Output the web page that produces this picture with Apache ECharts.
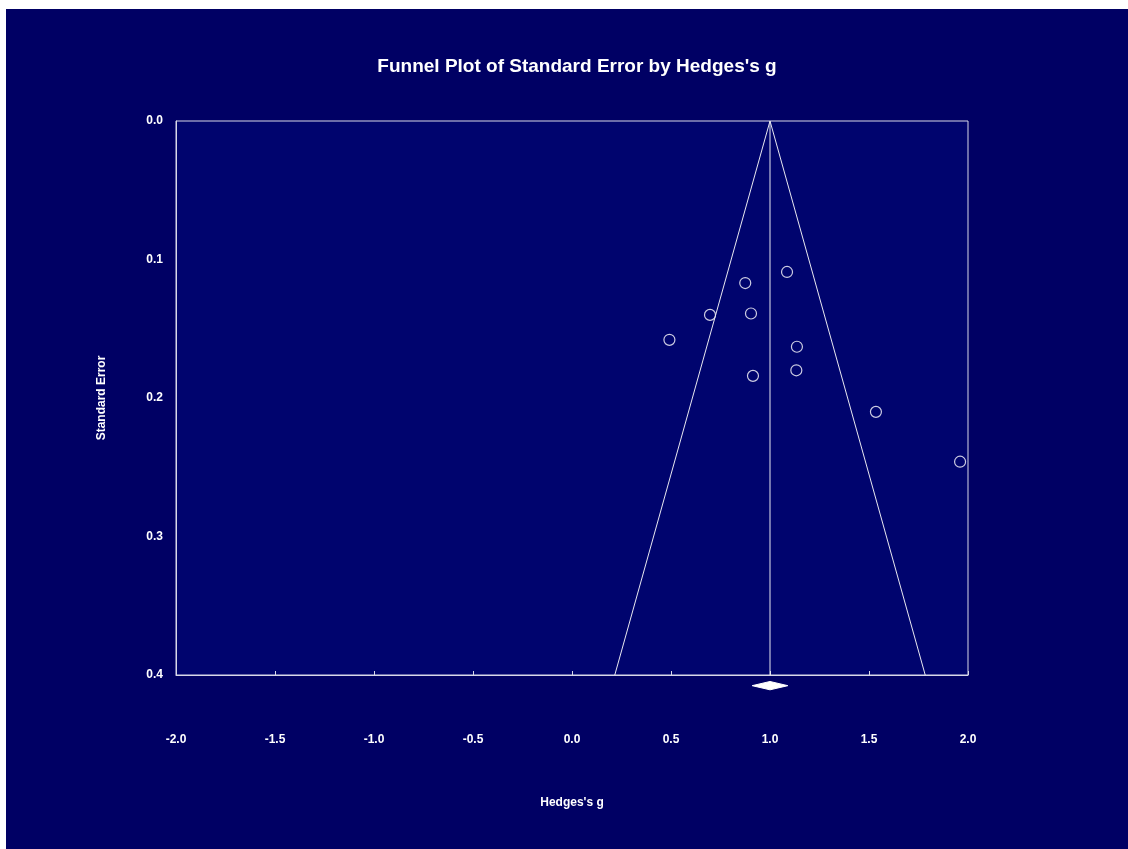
<!DOCTYPE html>
<html>
<head>
<meta charset="utf-8">
<script src="https://cdn.jsdelivr.net/npm/echarts@6/dist/echarts.min.js"></script>
<style>
  html, body { margin: 0; padding: 0; background: #ffffff; }
  #chart {
    position: absolute;
    left: 6px;
    top: 9px;
    width: 1122px;
    height: 840px;
    background: #000064;
  }
</style>
</head>
<body>
<div id="chart"></div>
<script>
// study points: Hedges's g and its standard error
const effectSizes = [1.086, 0.875, 0.697, 0.904, 0.492, 1.136, 1.133, 0.914, 1.535, 1.960];
const standardErrors = [0.109, 0.117, 0.140, 0.139, 0.158, 0.163, 0.180, 0.184, 0.210, 0.246];

// pooled estimate and funnel (95% limits at SE = 0.4)
const pooledMean = 1.0;
const funnelX = [0.216, 1.0, 1.784];
const funnelY = [0.4, 0.0, 0.4];
const meanLineY = [0.0, 0.4];

// summary diamond: lower, point, upper; drawn just under the axis
const diamondX = [0.91, 1.0, 1.09];
const diamondY = 0.4077;
const diamondHalfH = 0.003;

const xTicks = [-2.0, -1.5, -1.0, -0.5, 0.0, 0.5, 1.0, 1.5, 2.0];
const yTicks = [0.0, 0.1, 0.2, 0.3, 0.4];

const font = "'Liberation Sans', Arial, sans-serif";

const myChart = echarts.init(document.getElementById("chart"));

const option = {
  backgroundColor: "#000064",
  animation: false,
  title: {
    text: "Funnel Plot of Standard Error by Hedges's g",
    left: 566,
    textAlign: "center",
    top: 43,
    textStyle: {
      color: "#ffffff",
      fontSize: 19,
      fontWeight: "bold",
      fontFamily: font,
    },
  },
  grid: {
    left: 170,
    right: 160,
    top: 112,
    bottom: 174,
    show: true,
    backgroundColor: "#00046e",
    borderColor: "#d8d8e8",
    borderWidth: 1,
  },
  xAxis: {
    type: "value",
    position: "bottom",
    min: xTicks[0],
    max: xTicks[xTicks.length - 1],
    interval: 0.5,
    name: "Hedges's g",
    nameLocation: "middle",
    nameGap: 122,
    nameTextStyle: { color: "#ffffff", fontSize: 12, fontWeight: "bold", fontFamily: font },
    axisLine: { show: true, onZero: false, lineStyle: { color: "#d8d8e8", width: 1 } },
    axisTick: { show: true, inside: true, length: 4, lineStyle: { color: "#d8d8e8" } },
    splitLine: { show: false },
    axisLabel: {
      color: "#ffffff",
      fontSize: 12,
      fontWeight: "bold",
      fontFamily: font,
      margin: 59,
      formatter: (v) => v.toFixed(1),
    },
  },
  yAxis: {
    type: "value",
    position: "left",
    inverse: true,
    min: yTicks[0],
    max: yTicks[yTicks.length - 1],
    interval: 0.1,
    name: "Standard Error",
    nameLocation: "middle",
    nameGap: 68,
    nameRotate: 90,
    nameTextStyle: { color: "#ffffff", fontSize: 12, fontWeight: "bold", fontFamily: font },
    axisLine: { show: true, onZero: false, lineStyle: { color: "#d8d8e8", width: 1 } },
    axisTick: { show: false },
    splitLine: { show: false },
    axisLabel: {
      color: "#ffffff",
      fontSize: 12,
      fontWeight: "bold",
      fontFamily: font,
      margin: 13,
      formatter: (v) => v.toFixed(1),
    },
  },
  series: [
    {
      name: "funnel",
      type: "line",
      symbol: "none",
      lineStyle: { color: "#e8e8f0", width: 1 },
      data: funnelX.map((x, i) => [x, funnelY[i]]),
    },
    {
      name: "mean",
      type: "line",
      symbol: "none",
      lineStyle: { color: "#e8e8f0", width: 1 },
      data: meanLineY.map((y) => [pooledMean, y]),
    },
    {
      name: "studies",
      type: "scatter",
      symbol: "circle",
      symbolSize: 11,
      itemStyle: {
        color: "rgba(0,0,0,0)",
        borderColor: "#ffffff",
        borderWidth: 1.2,
      },
      data: effectSizes.map((x, i) => [x, standardErrors[i]]),
    },
    {
      name: "summary",
      type: "custom",
      clip: false,
      data: [[diamondX[1], diamondY]],
      renderItem: function (params, api) {
        const pts = [
          api.coord([diamondX[0], diamondY]),
          api.coord([diamondX[1], diamondY - diamondHalfH]),
          api.coord([diamondX[2], diamondY]),
          api.coord([diamondX[1], diamondY + diamondHalfH]),
        ];
        return {
          type: "polygon",
          shape: { points: pts },
          style: { fill: "#ffffff", stroke: "#ffffff", lineWidth: 1 },
        };
      },
    },
  ],
};

myChart.setOption(option);
</script>
</body>
</html>
